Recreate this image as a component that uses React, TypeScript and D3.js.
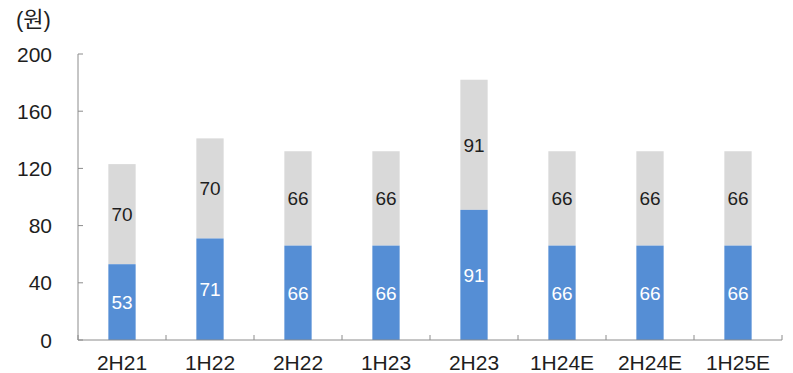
import React from "react";
import * as d3 from "d3";

const categories = ["2H21", "1H22", "2H22", "1H23", "2H23", "1H24E", "2H24E", "1H25E"];
const lowerValues = [53, 71, 66, 66, 91, 66, 66, 66];
const upperValues = [70, 70, 66, 66, 91, 66, 66, 66];
const yTicks = [0, 40, 80, 120, 160, 200];
const unitLabel = "(원)";

const W = 793;
const H = 373;
const left = 78;
const right = 782;
const top = 54;
const bottom = 340;
const font = "'Liberation Sans', 'Noto Sans CJK KR', sans-serif";

export default function App() {
  const x = d3.scaleBand<string>().domain(categories).range([left, right]).paddingInner(0.69).paddingOuter(0.345);
  const xStep = d3.scaleBand<string>().domain(categories).range([left, right]);
  const y = d3.scaleLinear().domain([0, 200]).range([bottom, top]);
  const axisColor = "#8c8c8c";
  const textColor = "#1e1e1e";

  return (
    <svg width={W} height={H} style={{ position: "absolute", left: 0, top: 0 }} fontFamily={font}>
      <rect width={W} height={H} fill="#fff" />
      <text x={16} y={27} fontSize={22} fill={textColor}>{unitLabel}</text>
      {yTicks.map((t) => (
        <g key={t}>
          <text x={52} y={y(t) + 7.5} fontSize={21} textAnchor="end" fill={textColor}>{t}</text>
          <line x1={left} x2={left + 5} y1={y(t)} y2={y(t)} stroke={axisColor} strokeWidth={1} />
        </g>
      ))}
      {categories.map((c, i) => {
        const bx = x(c)!;
        const bw = x.bandwidth();
        const cx = bx + bw / 2;
        const lo = lowerValues[i];
        const up = upperValues[i];
        return (
          <g key={c}>
            <rect x={bx} y={y(lo + up)} width={bw} height={y(lo) - y(lo + up)} fill="#d9d9d9" />
            <rect x={bx} y={y(lo)} width={bw} height={y(0) - y(lo)} fill="#558ed5" />
            <text x={cx} y={y(lo / 2) + 7} fontSize={19} textAnchor="middle" fill="#fff">{lo}</text>
            <text x={cx} y={y(lo + up / 2) + 7} fontSize={19} textAnchor="middle" fill={textColor}>{up}</text>
            <text x={cx} y={370} fontSize={21} textAnchor="middle" fill={textColor}>{c}</text>
          </g>
        );
      })}
      {categories.map((c) => (
        <line key={"t" + c} x1={xStep(c)!} x2={xStep(c)!} y1={bottom} y2={bottom - 5} stroke={axisColor} />
      ))}
      <line x1={right} x2={right} y1={bottom} y2={bottom - 5} stroke={axisColor} />
      <line x1={left} x2={left} y1={top} y2={bottom} stroke={axisColor} />
      <line x1={left} x2={right} y1={bottom} y2={bottom} stroke={axisColor} />
    </svg>
  );
}
